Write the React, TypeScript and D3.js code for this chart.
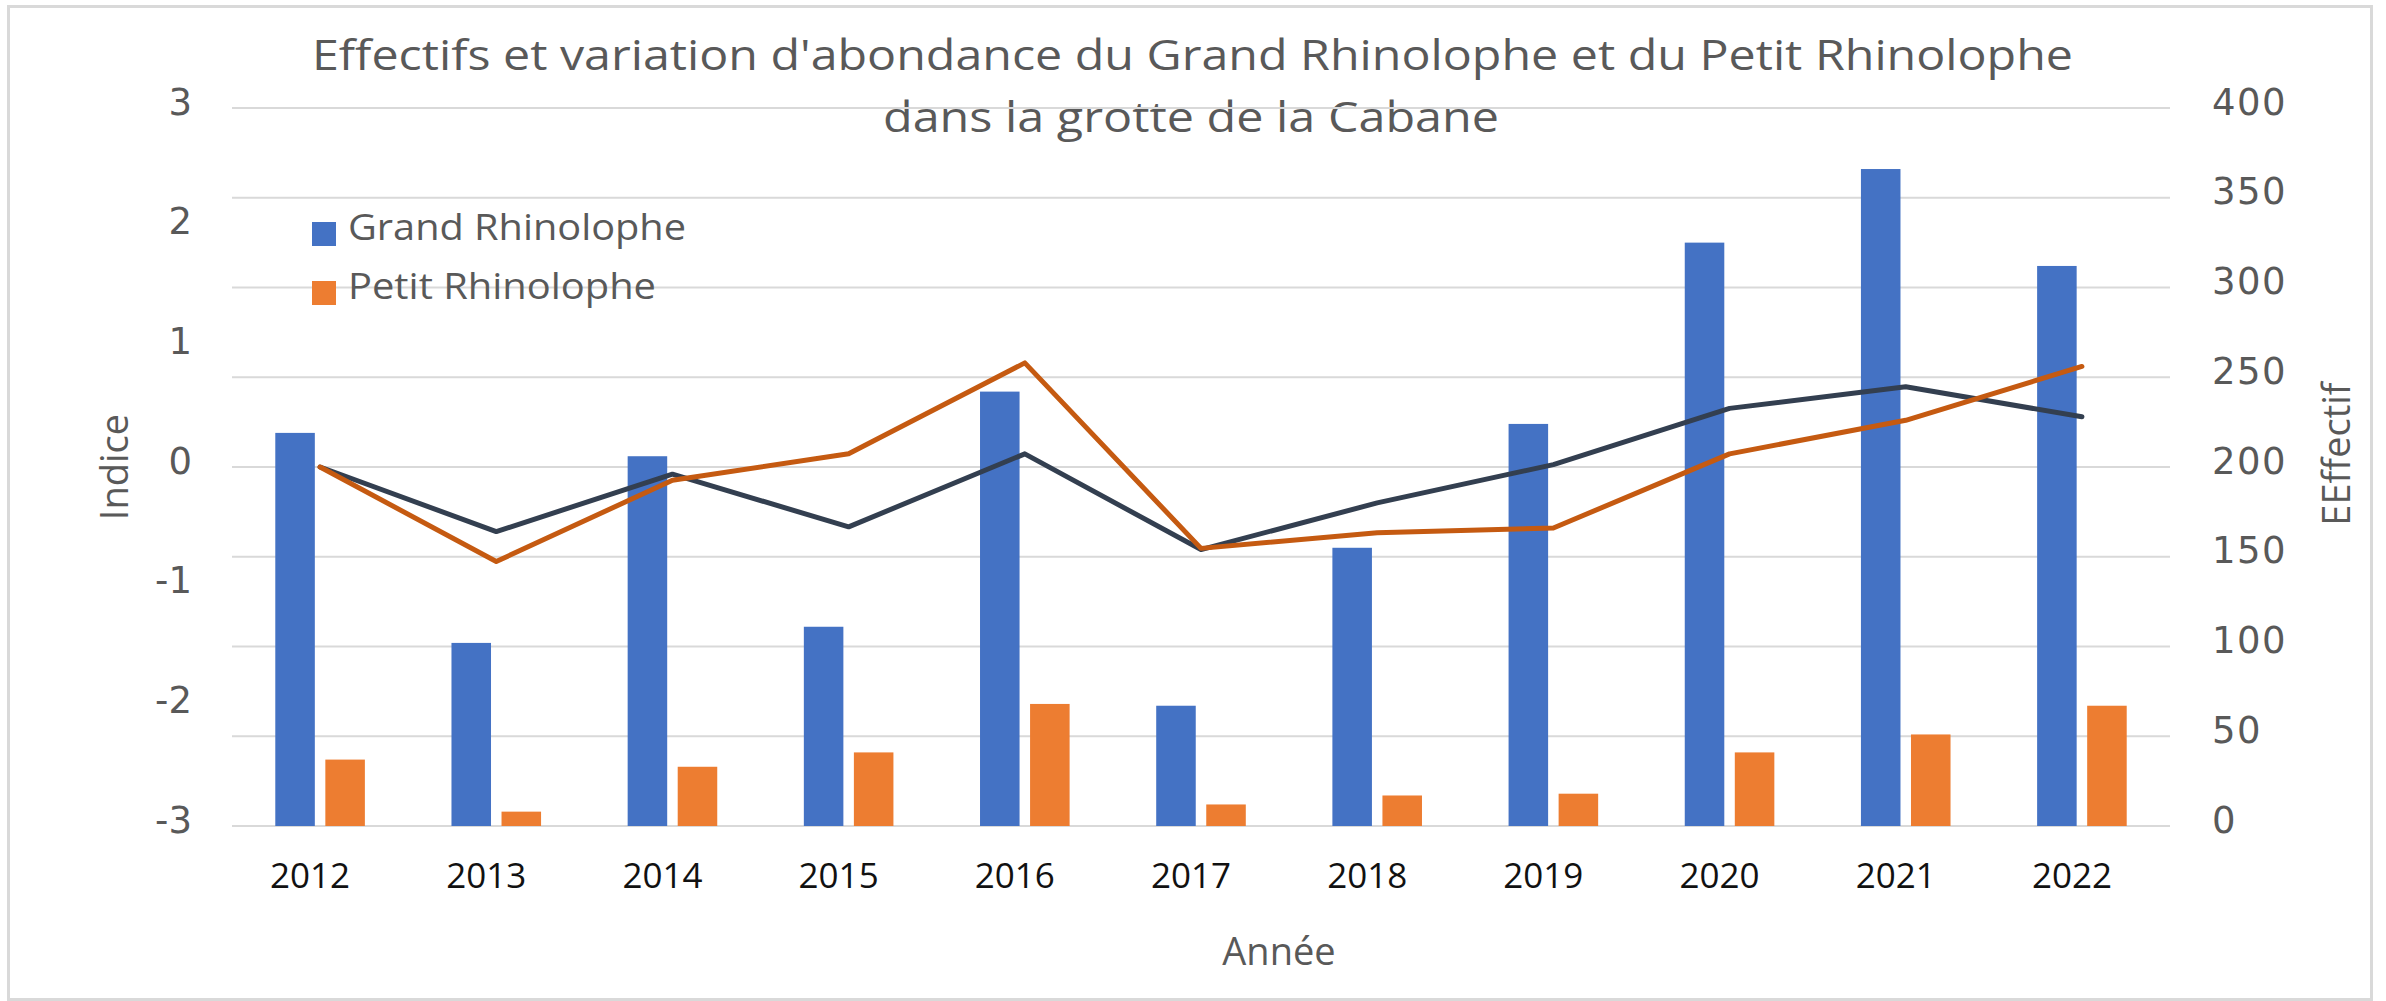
import * as d3 from 'd3';
import React from 'react';

// Années et effectifs comptés dans la grotte
const years = [2012, 2013, 2014, 2015, 2016, 2017, 2018, 2019, 2020, 2021, 2022];
const grandEffectif = [219, 102, 206, 111, 242, 67, 155, 224, 325, 366, 312];
const petitEffectif = [37, 8, 33, 41, 68, 12, 17, 18, 41, 51, 67];

// Indices d'abondance (axe de gauche)
const grandIndice = [0, -0.54, -0.06, -0.5, 0.11, -0.69, -0.3, 0.02, 0.49, 0.67, 0.42];
const petitIndice = [0, -0.79, -0.11, 0.11, 0.87, -0.68, -0.55, -0.51, 0.11, 0.39, 0.84];

const seriesNames = ['Grand Rhinolophe', 'Petit Rhinolophe'];
const seriesColors = ['#4472C4', '#ED7D31'];
const lineColors = ['#333F50', '#C55A11'];
const legendWidths = [338, 308];

const leftTicks = [-3, -2, -1, 0, 1, 2, 3];
const rightTicks = [0, 50, 100, 150, 200, 250, 300, 350, 400];

const W = 2386;
const H = 1001;
const plot = { left: 232, right: 2170, top: 108, bottom: 826 };

const textFont = "'Open Sans', 'DejaVu Sans', sans-serif";
const numFont = "'DejaVu Sans', sans-serif";
const gray = '#595959';

const App: React.FC = () => {
  const x = d3
    .scaleBand<number>()
    .domain(years)
    .range([plot.left, plot.right])
    .paddingInner(0.4915)
    .paddingOuter(0.2457);

  const xInner = d3
    .scaleBand<string>()
    .domain(seriesNames)
    .range([0, x.bandwidth()])
    .paddingInner(0.21);

  const yRight = d3.scaleLinear().domain([0, 400]).range([plot.bottom, plot.top]);
  const yLeft = d3.scaleLinear().domain([-3, 3]).range([plot.bottom, plot.top]);

  const effectifs = [grandEffectif, petitEffectif];
  const indices = [grandIndice, petitIndice];

  const line = d3
    .line<number>()
    .x((_, i) => (x(years[i]) as number) + x.bandwidth() / 2)
    .y(d => yLeft(d));

  return (
    <svg
      width={W}
      height={H}
      viewBox={`0 0 ${W} ${H}`}
      style={{ position: 'absolute', left: 0, top: 0, display: 'block', background: '#fff' }}
    >
      {/* cadre */}
      <rect x={8.5} y={6.5} width={2363} height={993} fill="#fff" stroke="#d9d9d9" strokeWidth={3} />

      {/* titre */}
      <text x={312} y={70} fontFamily={textFont} fontSize={42} fill={gray} textLength={1761} lengthAdjust="spacingAndGlyphs">
        Effectifs et variation d'abondance du Grand Rhinolophe et du Petit Rhinolophe
      </text>
      <text x={883} y={132} fontFamily={textFont} fontSize={42} fill={gray} textLength={616} lengthAdjust="spacingAndGlyphs">
        dans la grotte de la Cabane
      </text>

      {/* grille */}
      {rightTicks.map(t => (
        <line key={t} x1={plot.left} x2={plot.right} y1={yRight(t)} y2={yRight(t)} stroke="#d9d9d9" strokeWidth={2} />
      ))}

      {/* barres */}
      {effectifs.map((serie, s) =>
        serie.map((v, i) => (
          <rect
            key={`${s}-${i}`}
            x={(x(years[i]) as number) + (xInner(seriesNames[s]) as number)}
            y={yRight(v)}
            width={xInner.bandwidth()}
            height={yRight(0) - yRight(v)}
            fill={seriesColors[s]}
          />
        ))
      )}

      {/* courbes d'indice */}
      {indices.map((serie, s) => (
        <path
          key={s}
          d={line(serie) || ''}
          fill="none"
          stroke={lineColors[s]}
          strokeWidth={5}
          strokeLinejoin="round"
          strokeLinecap="round"
        />
      ))}

      {/* axe gauche */}
      {leftTicks.map(t => (
        <text key={t} x={192} y={yLeft(t) - 6} dominantBaseline="central" textAnchor="end" fontFamily={numFont} fontSize={37} fill={gray}>
          {t}
        </text>
      ))}
      <text transform={`translate(128, ${yLeft(0)}) rotate(-90)`} textAnchor="middle" fontFamily={textFont} fontSize={38} fill={gray}>
        Indice
      </text>

      {/* axe droit */}
      {rightTicks.map(t => (
        <text key={t} x={2212} y={yRight(t) - 6} dominantBaseline="central" fontFamily={numFont} fontSize={37} letterSpacing={1.5} fill={gray}>
          {t}
        </text>
      ))}
      <text transform={`translate(2350, 454) rotate(-90)`} textAnchor="middle" fontFamily={textFont} fontSize={38} fill={gray}>
        EEffectif
      </text>

      {/* axe des années */}
      {years.map(yr => (
        <text
          key={yr}
          x={(x(yr) as number) + x.bandwidth() / 2 - 10}
          y={888}
          textAnchor="middle"
          fontFamily={textFont}
          fontSize={35}
          fill="#111"
        >
          {yr}
        </text>
      ))}
      <text x={1279} y={965} textAnchor="middle" fontFamily={textFont} fontSize={38} fill={gray}>
        Année
      </text>

      {/* légende */}
      {seriesNames.map((name, s) => (
        <g key={name} transform={`translate(312, ${222 + s * 59})`}>
          <rect width={24} height={24} fill={seriesColors[s]} />
          <text x={36} y={18} fontFamily={textFont} fontSize={37} fill={gray} textLength={legendWidths[s]} lengthAdjust="spacingAndGlyphs">
            {name}
          </text>
        </g>
      ))}
    </svg>
  );
};

export default App;
